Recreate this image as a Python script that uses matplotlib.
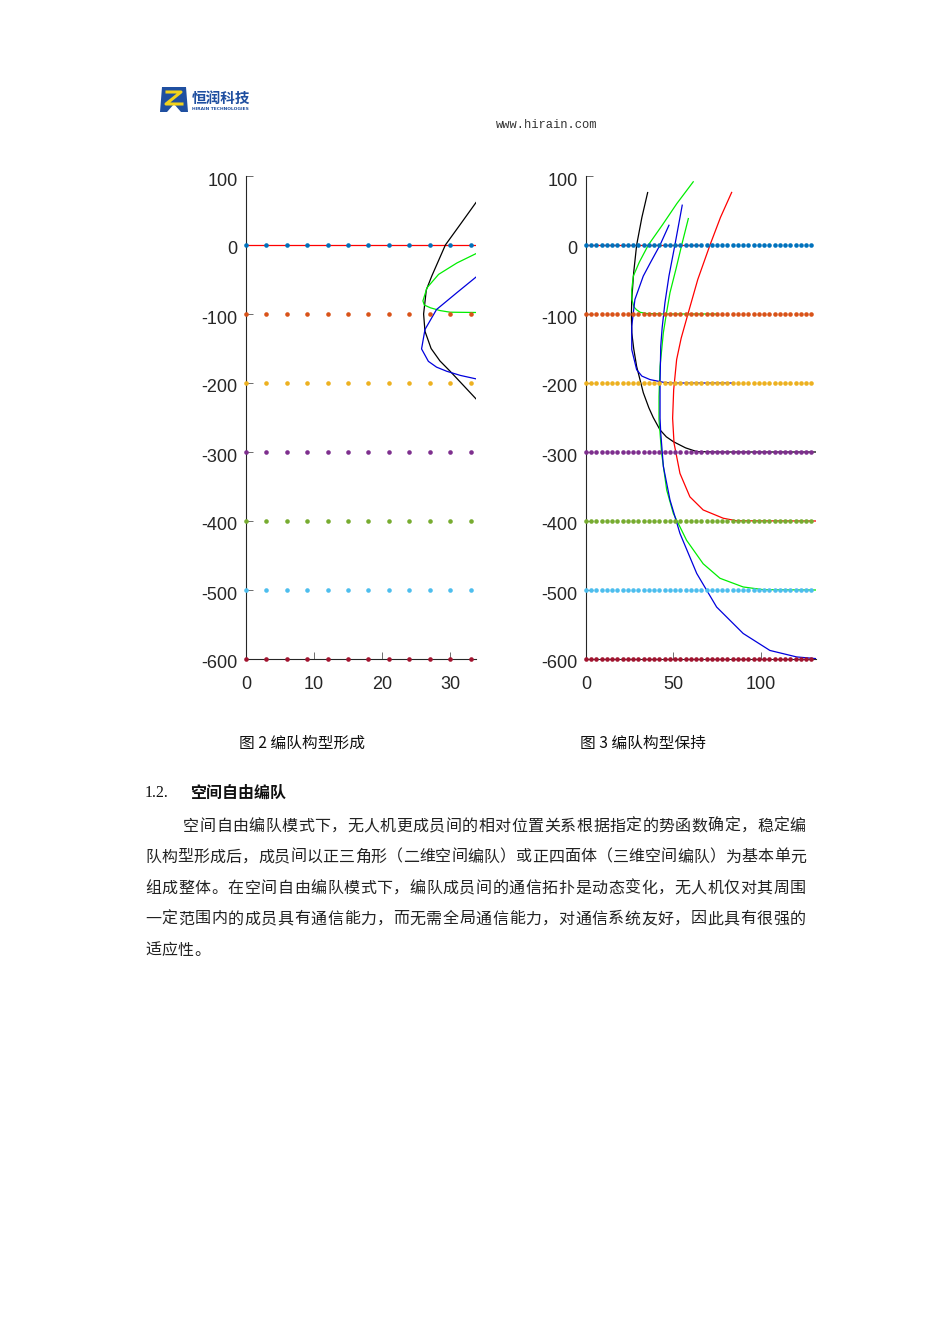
import numpy as np
import matplotlib
matplotlib.use("Agg")
import matplotlib.pyplot as plt
import matplotlib.transforms as mtransforms
from matplotlib.patches import Polygon

plt.rcParams['font.family'] = ['Liberation Sans', 'DejaVu Sans']
plt.rcParams['axes.unicode_minus'] = False

# formation rows (y positions) and MATLAB default colours
row_y = [0, -100, -200, -300, -400, -500, -600]
row_colors = ['#0072BD', '#D95319', '#EDB120', '#7E2F8E', '#77AC30', '#4DBEEE', '#A2142F']
dots_x_left = np.arange(0, 34, 3)
dots_x_right = np.arange(0, 130, 3)

# fig 2: formation forming
red_L_x = [0, 33.8]
red_L_y = [0, 0]
black_L_x = [33.8, 31.5, 29.3, 27.3, 26.5, 26.1, 26.3, 27.2, 28.5, 30.0, 32.0, 33.8]
black_L_y = [61.6, 30, 0, -45, -65, -100, -125, -150, -168, -183, -204, -223]
green_L_x = [33.8, 31.0, 28.3, 26.6, 26.0, 26.2, 27.1, 28.5, 30.0, 33.8]
green_L_y = [-12.5, -26, -42.6, -62, -81, -87, -91, -95, -97.4, -97.8]
blue_L_x = [33.8, 31.0, 28.0, 26.3, 25.8, 26.8, 28.0, 29.5, 31.5, 33.8]
blue_L_y = [-46.5, -69, -93.5, -122.5, -150.6, -168.6, -177, -183, -189, -194]

# fig 3: formation keeping
red_R0_x = [0, 65]
red_R0_y = [0, 0]
black_R_x = [35.3, 32, 29, 27.3, 26.2, 26.0, 26.2, 27.3, 29, 32.8, 36, 38.5, 42.4, 46, 50, 57, 63.4, 75, 132]
black_R_y = [76, 40, 0, -40, -79, -100, -127, -150, -176, -214, -236, -250, -268, -278, -285, -294, -299.4, -300, -300]
green1_R_x = [61.4, 52, 44, 35.7, 30.5, 27.1, 26.2, 26.3, 27.5, 29, 31, 34.7, 45, 75]
green1_R_y = [91.6, 60, 30, 0, -25, -45, -65, -79, -90, -94, -97.5, -99.3, -100, -100]
green2_R_x = [58.6, 54.8, 51.5, 48.1, 46, 44.3, 42.4, 41.8, 41.8, 43.3, 46.2, 50, 57.6, 67.1, 76.7, 90, 101.5, 132]
green2_R_y = [38.3, 0, -35, -69, -100, -127, -176, -220, -253, -302, -355, -389, -428, -462, -483, -495.6, -499.5, -500]
blue1_R_x = [55.1, 50.9, 47.5, 45.2, 43.6, 42.8, 42.4, 42.4, 42.8, 44.3, 48.1, 53.8, 63.4, 74.8, 90, 105.3, 120.6, 132]
blue1_R_y = [57.7, 0, -45, -83.7, -120, -146.8, -200, -251, -272.7, -321, -369.6, -418, -476, -524.7, -563, -587.6, -597, -599.5]
blue2_R_x = [47.5, 42.4, 37, 32.8, 28, 26.2, 26.2, 29, 32, 36.6, 44.3, 50, 85]
blue2_R_y = [28.6, 0, -25, -45, -79, -117.7, -151.6, -180.7, -190, -195, -199, -200, -200]
red_R_x = [83.4, 77, 71, 64, 58.6, 54.5, 51.9, 50.2, 49.6, 50.4, 53.8, 59.5, 67.1, 78.6, 86.2, 132]
red_R_y = [76.2, 40, 0, -50, -98, -135, -166, -210, -251, -287, -331, -365, -384, -396, -399.7, -400]

para_lines = [
    "空间自由编队模式下，无人机更成员间的相对位置关系根据指定的势函数确定，稳定编",
    "队构型形成后，成员间以正三角形（二维空间编队）或正四面体（三维空间编队）为基本单元",
    "组成整体。在空间自由编队模式下，编队成员间的通信拓扑是动态变化，无人机仅对其周围",
    "一定范围内的成员具有通信能力，而无需全局通信能力，对通信系统友好，因此具有很强的",
    "适应性。",
]

W, H = 950, 1344
fig = plt.figure(figsize=(9.5, 13.44), dpi=100)
fig.patch.set_facecolor('white')


def fx(x):
    return x / W


def fy(y):
    return 1 - y / H


def setup(ax, xlim, xticks):
    ax.set_xlim(*xlim)
    ax.set_ylim(-600, 100)
    ax.set_xticks(xticks)
    ax.set_yticks(np.arange(-600, 101, 100))
    for s in ['top', 'right']:
        ax.spines[s].set_visible(False)
    for s in ['left', 'bottom']:
        ax.spines[s].set_color('#262626')
        ax.spines[s].set_linewidth(0.8)
    ax.tick_params(direction='in', length=5, width=0.6, colors='#555555',
                   labelcolor='#262626', labelsize=13)
    ax.tick_params(axis='x', pad=12)
    ax.tick_params(axis='y', pad=6)
    # labels sit a few pixels below their ticks, as in the original
    shift = mtransforms.ScaledTranslation(0, -3 / 100, fig.dpi_scale_trans)
    for lab in ax.get_yticklabels():
        lab.set_transform(lab.get_transform() + shift)
    ax.patch.set_alpha(0)


def dots(ax, xs):
    for y, c in zip(row_y, row_colors):
        ax.plot(xs, [y] * len(xs), 'o', color=c, ms=3.3, mew=0, zorder=3, clip_on=False)


# left axes
axL = fig.add_axes([fx(246), fy(659), fx(230), 483 / H])
setup(axL, (0, 33.8), [0, 10, 20, 30])
lw = 0.9
axL.plot(red_L_x, red_L_y, color='r', lw=lw, zorder=2)
axL.plot(black_L_x, black_L_y, color='k', lw=lw, zorder=2)
axL.plot(green_L_x, green_L_y, color='#00ee00', lw=lw, zorder=2)
axL.plot(blue_L_x, blue_L_y, color='#0000dd', lw=lw, zorder=2)
dots(axL, dots_x_left)

# right axes
axR = fig.add_axes([fx(586), fy(659), fx(230), 483 / H])
setup(axR, (0, 131.7), [0, 50, 100])
axR.plot(red_R0_x, red_R0_y, color='r', lw=lw, zorder=2)
axR.plot(black_R_x, black_R_y, color='k', lw=lw, zorder=2)
axR.plot(green1_R_x, green1_R_y, color='#00ee00', lw=lw, zorder=2)
axR.plot(green2_R_x, green2_R_y, color='#00ee00', lw=lw, zorder=2)
axR.plot(blue1_R_x, blue1_R_y, color='#0000dd', lw=lw, zorder=2)
axR.plot(blue2_R_x, blue2_R_y, color='#0000dd', lw=lw, zorder=2)
axR.plot(red_R_x, red_R_y, color='r', lw=lw, zorder=2)
dots(axR, dots_x_right)

# header: logo and url
logo = Polygon([(fx(160), fy(112)), (fx(162), fy(87)), (fx(186), fy(87)), (fx(188), fy(112)),
                (fx(181), fy(112)), (fx(174), fy(104)), (fx(167), fy(112))],
               closed=True, transform=fig.transFigure, facecolor='#1f4fa0', edgecolor='none')
fig.patches.append(logo)
fig.lines.append(plt.Line2D([fx(167), fx(181), fx(166), fx(182)], [fy(92), fy(92), fy(104), fy(104)],
                            transform=fig.transFigure, color='#f2d21b', lw=2.2))
cjk = ['Noto Sans CJK SC', 'DejaVu Sans']
fig.text(fx(192), fy(98), "恒润科技", family=cjk, fontsize=10.5, fontweight='bold',
         color='#1f4fa0', ha='left', va='center')
fig.text(fx(192), fy(108.5), "HIRAIN TECHNOLOGIES", family='DejaVu Sans', fontsize=3.2,
         fontweight='bold', color='#1f4fa0', ha='left', va='center')
fig.text(fx(547), fy(125), "www.hirain.com", family='Liberation Mono', fontsize=8.7,
         color='#333333', ha='center', va='center')

# captions
fig.text(fx(239), fy(743), "图 2 编队构型形成", family=cjk, fontsize=11.3, color='#111111',
         ha='left', va='center')
fig.text(fx(580), fy(743), "图 3 编队构型保持", family=cjk, fontsize=11.3, color='#111111',
         ha='left', va='center')

# section heading
fig.text(fx(145), fy(793), "1.2.", family=['Liberation Serif', 'DejaVu Serif'], fontsize=11.5,
         color='#111111', ha='left', va='center')
fig.text(fx(190), fy(793), "空间自由编队", family=cjk, fontsize=11.5, fontweight='bold',
         color='#111111', ha='left', va='center')

# paragraph, justified char by char
line_y = [826, 857, 888, 919, 950]
line_x0 = [183, 145, 145, 145, 145]
for txt, y, x0 in zip(para_lines, line_y, line_x0):
    if txt is para_lines[-1]:
        step = 16.4
    else:
        step = (806 - x0) / len(txt)
    for i, ch in enumerate(txt):
        fig.text(fx(x0 + i * step + step / 2), fy(y), ch, family=cjk, fontsize=11.5,
                 color='#222222', ha='center', va='center')

fig.savefig('out.png', dpi=100, facecolor='white')
